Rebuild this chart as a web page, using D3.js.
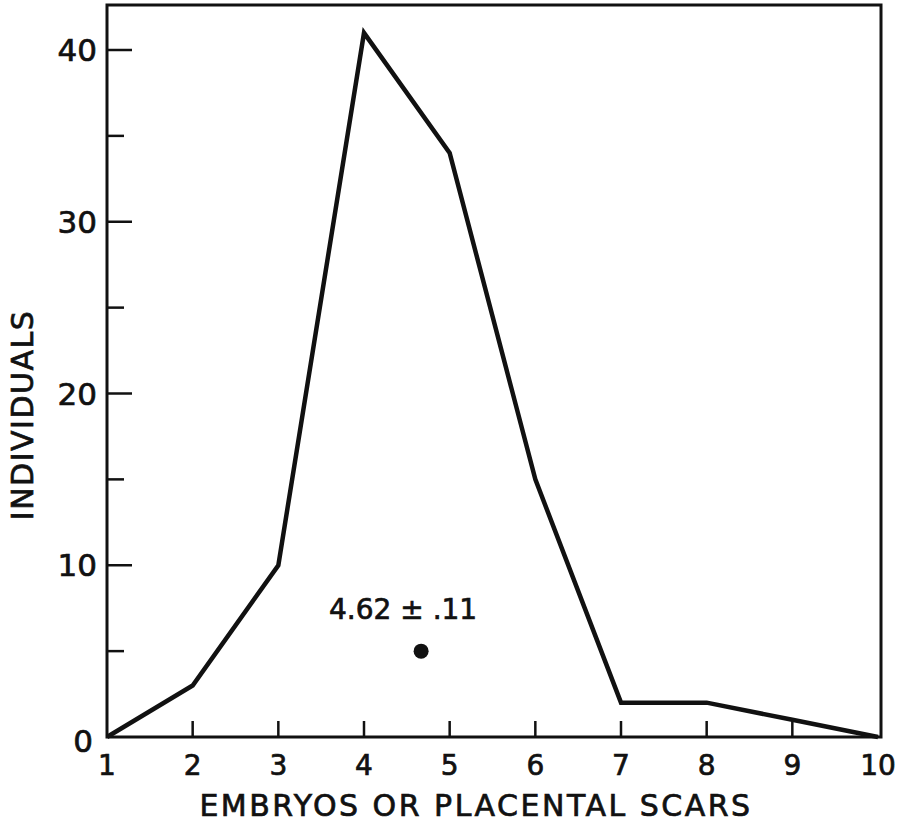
<!DOCTYPE html>
<html>
<head>
<meta charset="utf-8">
<script src="https://cdn.jsdelivr.net/npm/d3@7"></script>
<style>
  html, body { margin: 0; padding: 0; background: #fff; }
  svg text { font-family: "DejaVu Sans", sans-serif; fill: #111; stroke: #111; stroke-width: 0.7px; }
</style>
</head>
<body>
<div id="chart"></div>
<script>
// litter size distribution
const embryos = [1, 2, 3, 4, 5, 6, 7, 8, 9, 10];
const individuals = [0, 3, 10, 41, 34, 15, 2, 2, 1, 0];
const yMajorTicks = [0, 10, 20, 30, 40];
const yMinorTicks = [5, 15, 25, 35];
const meanValue = 4.62;
const meanY = 5;
const meanLabel = "4.62 \u00b1 .11";

const width = 902, height = 825;
const margin = { top: 5, right: 20, bottom: 88, left: 107 };

const svg = d3.select("#chart")
  .append("svg")
  .attr("width", width)
  .attr("height", height);

const x = d3.scaleLinear()
  .domain([1, 10])
  .range([margin.left, 878]);

const y = d3.scaleLinear()
  .domain([0, 40])
  .range([height - margin.bottom, 50]);

const ink = "#111";
const x0 = margin.left, x1 = 881;
const yTop = margin.top, yBot = height - margin.bottom;

// frame
svg.append("rect")
  .attr("x", x0).attr("y", yTop)
  .attr("width", x1 - x0).attr("height", yBot - yTop)
  .attr("fill", "none").attr("stroke", ink).attr("stroke-width", 3);

// y ticks (inward)
svg.selectAll("line.ymaj").data(yMajorTicks.filter(d => d > 0)).enter()
  .append("line").attr("class", "ymaj")
  .attr("x1", x0).attr("x2", x0 + 25)
  .attr("y1", d => y(d)).attr("y2", d => y(d))
  .attr("stroke", ink).attr("stroke-width", 2.5);

svg.selectAll("line.ymin").data(yMinorTicks).enter()
  .append("line").attr("class", "ymin")
  .attr("x1", x0).attr("x2", x0 + 17)
  .attr("y1", d => y(d)).attr("y2", d => y(d))
  .attr("stroke", ink).attr("stroke-width", 2.5);

svg.selectAll("text.ylab").data(yMajorTicks).enter()
  .append("text").attr("class", "ylab")
  .attr("x", d => d === 0 ? x0 - 14 : x0 - 10)
  .attr("y", d => y(d) + (d === 0 ? 15 : 11))
  .attr("text-anchor", "end")
  .attr("font-size", 31)
  .text(d => d);

// x ticks (inward, from bottom)
svg.selectAll("line.xt").data(embryos.slice(1, -1)).enter()
  .append("line").attr("class", "xt")
  .attr("x1", d => x(d)).attr("x2", d => x(d))
  .attr("y1", yBot).attr("y2", yBot - 16)
  .attr("stroke", ink).attr("stroke-width", 2.5);

svg.selectAll("text.xlab").data(embryos).enter()
  .append("text").attr("class", "xlab")
  .attr("x", d => x(d))
  .attr("y", yBot + 38)
  .attr("text-anchor", "middle")
  .attr("font-size", 28)
  .text(d => d);

// axis titles
svg.append("text")
  .attr("x", 476)
  .attr("y", 816)
  .attr("text-anchor", "middle")
  .attr("font-size", 30)
  .attr("letter-spacing", 2.5)
  .text("EMBRYOS OR PLACENTAL SCARS");

svg.append("text")
  .attr("transform", `translate(33, 415) rotate(-90)`)
  .attr("text-anchor", "middle")
  .attr("font-size", 30)
  .attr("letter-spacing", 1.5)
  .text("INDIVIDUALS");

// data line
const line = d3.line()
  .x((d, i) => x(embryos[i]))
  .y(d => y(d));

svg.append("path")
  .datum(individuals)
  .attr("d", line)
  .attr("fill", "none")
  .attr("stroke", ink)
  .attr("stroke-width", 4.5)
  .attr("stroke-linejoin", "miter");

// mean marker
svg.append("circle")
  .attr("cx", x(meanValue) + 4)
  .attr("cy", y(meanY))
  .attr("r", 7.5)
  .attr("fill", ink);

svg.append("text")
  .attr("x", x(meanValue) - 14)
  .attr("y", 619)
  .attr("text-anchor", "middle")
  .attr("font-size", 28)
  .text(meanLabel);
</script>
</body>
</html>
